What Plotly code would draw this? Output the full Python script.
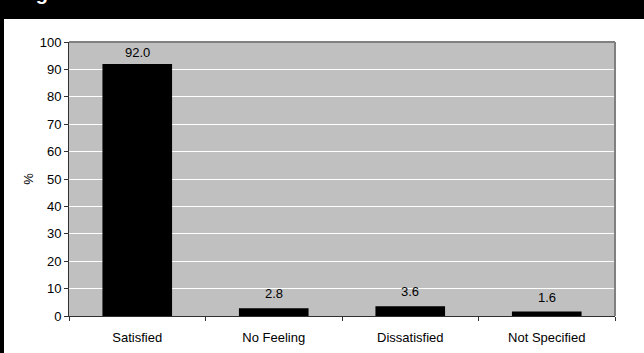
import plotly.graph_objects as go

categories = ["Satisfied", "No Feeling", "Dissatisfied", "Not Specified"]
percent = [92.0, 2.8, 3.6, 1.6]
y_ticks = list(range(0, 101, 10))
heading = "Figure"

W, H = 644, 353
L, R, T, B = 69, 29, 42, 37
pw, ph = W - L - R, H - T - B
y_max = 100

font = dict(family="Arial, Liberation Sans, sans-serif", size=13, color="#000000")

fig = go.Figure(
    go.Bar(
        x=categories,
        y=percent,
        marker=dict(color="#000000", line=dict(width=0)),
        width=0.51,
        hoverinfo="x+y",
    )
)

# value labels above bars, kept inside the plot area
annotations = []
for c, v in zip(categories, percent):
    bar_top_px = (1 - v / y_max) * ph          # distance of bar top from plot top
    label_bottom_px = max(bar_top_px - 6, 19)  # keep the label inside the frame
    annotations.append(dict(
        x=c, y=v, xref="x", yref="y", text=f"{v:.1f}", showarrow=False,
        xanchor="center", yanchor="bottom", yshift=bar_top_px - label_bottom_px,
        font=font, borderpad=0,
    ))

annotations.append(dict(
    text=f"<b>{heading}</b>", xref="paper", yref="paper",
    x=-(L - 17) / pw, y=1 + (T - 5) / ph, xanchor="left", yanchor="bottom",
    showarrow=False, borderpad=0,
    font=dict(family="Arial, Liberation Sans, sans-serif", size=20, color="#ffffff"),
))

shapes = [
    # heading band across the top
    dict(type="rect", xref="paper", yref="paper",
         x0=-L / pw, x1=(W - L) / pw, y0=1 + (T - 19) / ph, y1=1 + T / ph + 0.01,
         fillcolor="#000000", line=dict(width=0), layer="below"),
    # left frame edge
    dict(type="rect", xref="paper", yref="paper",
         x0=-L / pw, x1=-(L - 4) / pw, y0=-B / ph - 0.01, y1=1 + T / ph,
         fillcolor="#000000", line=dict(width=0), layer="above"),
    # plot area outline
    dict(type="line", xref="paper", yref="paper", x0=0, x1=1, y0=1, y1=1,
         line=dict(color="#808080", width=2)),
    dict(type="line", xref="paper", yref="paper", x0=1, x1=1, y0=0, y1=1,
         line=dict(color="#808080", width=2)),
]

fig.update_layout(
    width=W, height=H,
    margin=dict(l=L, r=R, t=T, b=B, autoexpand=False),
    paper_bgcolor="#ffffff",
    plot_bgcolor="#c0c0c0",
    showlegend=False,
    font=font,
    shapes=shapes,
    annotations=annotations,
    xaxis=dict(
        automargin=False,
        showgrid=False,
        showline=True, linecolor="#303030", linewidth=1,
        ticks="outside", ticklen=4, tickcolor="#303030",
        tickson="boundaries",
        tickfont=font,
        ticklabelstandoff=9,
    ),
    yaxis=dict(
        automargin=False,
        range=[0, y_max],
        tickvals=y_ticks,
        showgrid=True, gridcolor="#ffffff", gridwidth=1,
        zeroline=False,
        showline=True, linecolor="#303030", linewidth=1,
        ticks="outside", ticklen=4, tickcolor="#303030",
        tickfont=font,
        title=dict(text="%", font=font, standoff=3),
    ),
)

fig.write_html("out.html")
